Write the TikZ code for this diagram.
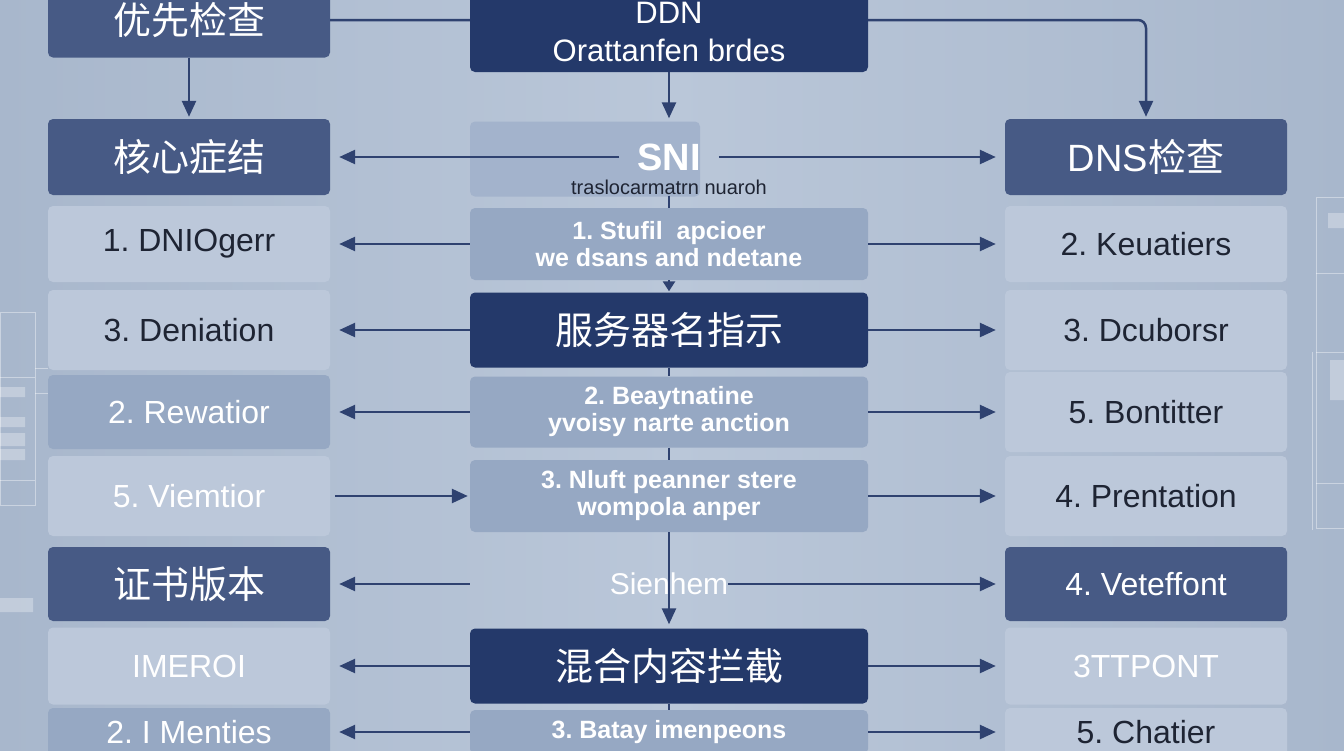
\documentclass[tikz,border=0pt]{standalone}
\usepackage{fontspec}
\setmainfont{Liberation Sans}
\newfontfamily\cjk{Noto Sans CJK SC}
\usetikzlibrary{arrows.meta}
\frenchspacing

\definecolor{bgmid}{HTML}{BAC7D9}
\definecolor{bgside}{HTML}{A8B7CC}
\definecolor{cNavy}{HTML}{24396A}
\definecolor{cSlate}{HTML}{475A85}
\definecolor{cGrey}{HTML}{96A8C3}
\definecolor{cSni}{HTML}{A3B3CC}
\definecolor{cPale}{HTML}{BCC8DA}
\definecolor{ink}{HTML}{1E2433}
\definecolor{wire}{HTML}{2F4270}

\tikzset{
  box/.style={rounded corners=5pt, inner sep=0pt, align=center},
  side/.style={box, minimum width=282pt},
  mid/.style={box, minimum width=398pt},
  navybox/.style={fill=cNavy, text=white},
  slatebox/.style={fill=cSlate, text=white},
  greybox/.style={fill=cGrey, text=white},
  palebox/.style={fill=cPale, text=ink},
  hanzi/.style={font=\cjk\fontsize{38}{44}\selectfont},
  item/.style={font=\fontsize{32}{38}\selectfont},
  pair/.style={font=\bfseries\fontsize{25}{27}\selectfont},
  conn/.style={draw=wire, line width=2.5pt, -{Triangle[length=16pt,width=14pt]}, shorten >=9pt},
  plain/.style={draw=wire, line width=2.5pt},
  deco/.style={draw=white, opacity=0.4, line width=0.8pt},
}

\begin{document}
\begin{tikzpicture}[x=1pt,y=-1pt]
\path[use as bounding box] (0,0) rectangle (1344,750);
\clip (0,0) rectangle (1344,750);
\shade[left color=bgside, right color=bgside, middle color=bgmid] (0,0) rectangle (1344,750);

% faint panels at the edges
\draw[deco] (0,312) rectangle (35,505);
\draw[deco] (0,377) -- (35,377) (0,480) -- (35,480) (35,368) -- (48,368) (35,393) -- (48,393);
\fill[white, opacity=0.3] (0,387) rectangle (25,397) (0,417) rectangle (25,427)
  (0,433) rectangle (25,446) (0,449) rectangle (25,460) (0,598) rectangle (33,612);
\draw[deco] (1316,197) rectangle (1344,528);
\draw[deco] (1316,273) -- (1344,273) (1316,352) -- (1344,352) (1316,483) -- (1344,483);
\draw[deco] (1312,352) -- (1312,530);
\fill[white, opacity=0.3] (1328,213) rectangle (1344,228) (1330,360) rectangle (1344,400);

% left column
\node[side, slatebox, hanzi, minimum height=75pt] (first) at (189,20) {优先检查};
\node[side, slatebox, hanzi, minimum height=76pt] (core) at (189,157) {核心症结};
\node[side, palebox, item, minimum height=76pt] (l1) at (189,244) {1. DNIOgerr};
\node[side, palebox, item, minimum height=80pt] (l2) at (189,330) {3. Deniation};
\node[side, greybox, item, minimum height=74pt] (l3) at (189,412) {2. Rewatior};
\node[side, palebox, item, text=white, minimum height=80pt] (l4) at (189,496) {5. Viemtior};
\node[side, slatebox, hanzi, minimum height=74pt] (cert) at (189,584) {证书版本};
\node[side, palebox, item, text=white, minimum height=77pt] (l6) at (189,666) {IMEROI};
\node[side, greybox, item, minimum height=48pt] (l7) at (189,732) {2. I Menties};

% right column
\node[side, slatebox, hanzi, minimum height=76pt] (dns) at (1146,157) {\rmfamily DNS\cjk 检查};
\node[side, palebox, item, minimum height=76pt] (r1) at (1146,244) {2. Keuatiers};
\node[side, palebox, item, minimum height=80pt] (r2) at (1146,330) {3. Dcuborsr};
\node[side, palebox, item, minimum height=80pt] (r3) at (1146,412) {5. Bontitter};
\node[side, palebox, item, minimum height=80pt] (r4) at (1146,496) {4. Prentation};
\node[side, slatebox, item, minimum height=74pt] (r5) at (1146,584) {4. Veteffont};
\node[side, palebox, item, text=white, minimum height=77pt] (r6) at (1146,666) {3TTPONT};
\node[side, palebox, item, minimum height=48pt] (r7) at (1146,732) {5. Chatier};

\draw[conn, rounded corners=8pt, shorten >=2pt] (first.east) -| (dns.north);

% centre column
\node[mid, navybox, minimum height=80pt, font=\fontsize{31}{38}\selectfont] (ddn) at (669,32) {DDN\\Orattanfen brdes};
\node[box, fill=cSni, minimum width=230pt, minimum height=75pt] (snibox) at (585,159) {};
\node[font=\bfseries\fontsize{38}{44}\selectfont, text=white, inner xsep=18pt, inner ysep=0pt] (sni) at (669,157) {SNI};
\node[font=\fontsize{20}{24}\selectfont, text=ink, inner sep=1pt] (snisub) at (669,187) {traslocarmatrn nuaroh};
\node[mid, greybox, pair, minimum height=72pt] (c1) at (669,244) {1. Stufil\ \ apcioer\\we dsans and ndetane};
\node[mid, navybox, hanzi, minimum height=75pt] (c2) at (669,330) {服务器名指示};
\node[mid, greybox, pair, minimum height=71pt] (c3) at (669,412) {2. Beaytnatine\\yvoisy narte anction};
\node[mid, greybox, pair, minimum height=72pt] (c4) at (669,496) {3. Nluft peanner stere\\wompola anper};
\node[item, font=\fontsize{30}{36}\selectfont, text=white, inner sep=0pt] (sien) at (669,584) {Sienhem};
\node[mid, navybox, hanzi, minimum height=75pt] (mix) at (669,666) {混合内容拦截};
\node[mid, greybox, pair, minimum height=44pt] (c6) at (669,732) {3. Batay imenpeons};

% vertical links
\draw[conn, shorten >=2pt] (first.south) -- (core.north);
\draw[conn, shorten >=3pt] (ddn.south) -- (ddn.south |- snibox.north);
\draw[plain] (snisub.south) -- (c1.north);
\draw[conn, -{Triangle[length=10pt,width=12pt]}, shorten >=1pt] (c1.south) -- (c2.north);
\draw[plain] (c2.south) -- (c3.north);
\draw[plain] (c3.south) -- (c4.north);
\draw[conn, shorten >=4pt] (c4.south) -- (mix.north);
\draw[plain] (mix.south) -- (c6.north);

% row links
\draw[conn] (sni.west) -- (core.east);
\draw[conn] (sni.east) -- (dns.west);
\draw[conn] (c1.west) -- (l1.east);
\draw[conn] (c1.east) -- (r1.west);
\draw[conn] (c2.west) -- (l2.east);
\draw[conn] (c2.east) -- (r2.west);
\draw[conn] (c3.west) -- (l3.east);
\draw[conn] (c3.east) -- (r3.west);
\draw[conn, shorten <=5pt, shorten >=2pt] (l4.east) -- (c4.west);
\draw[conn] (c4.east) -- (r4.west);
\draw[conn] (c4.west |- sien) -- (cert.east);
\draw[conn] (sien.east) -- (r5.west);
\draw[conn] (mix.west) -- (l6.east);
\draw[conn] (mix.east) -- (r6.west);
\draw[conn] (c6.west) -- (l7.east);
\draw[conn] (c6.east) -- (r7.west);
\end{tikzpicture}
\end{document}
